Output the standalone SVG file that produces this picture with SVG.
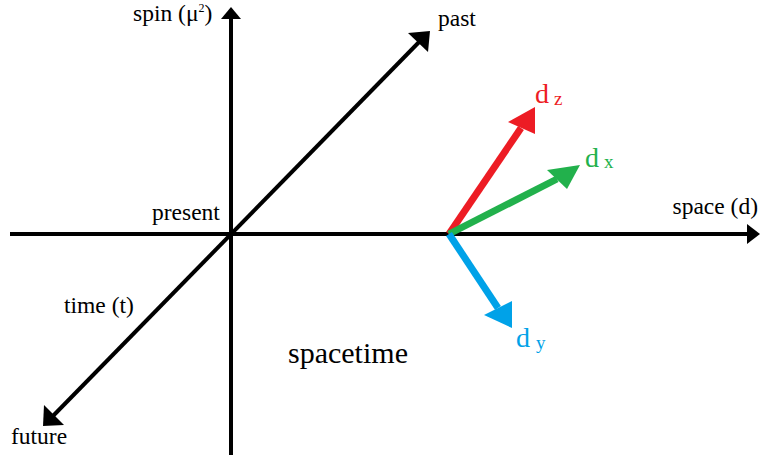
<svg xmlns="http://www.w3.org/2000/svg" width="761" height="457" viewBox="0 0 761 457">
<style>
text{font-family:"Liberation Serif","Times New Roman",serif;fill:#000}
.lbl{font-size:23.5px}
.ax{stroke:#000;stroke-width:4;fill:none}
.big{font-size:30px}
.d{font-size:28px}
.sub{font-size:19px}
</style>
<rect width="761" height="457" fill="#fff"/>
<g id="connectors">
  <line class="ax" x1="231" y1="455" x2="231" y2="16"/>
  <polygon points="231,7 221,19 241,19" fill="#000"/>
  <line class="ax" x1="10" y1="234" x2="749" y2="234"/>
  <polygon points="760,234 747,224 747,244" fill="#000"/>
  <line class="ax" x1="51" y1="418" x2="423" y2="38"/>
  <polygon points="43,426 44,405 64,425" fill="#000"/>
  <polygon points="430,31 408,33 428,52" fill="#000"/>
</g>
<g id="dz">
  <line x1="449" y1="234" x2="521" y2="128" stroke="#ed1c24" stroke-width="7"/>
  <polygon points="535,107 508,122 535,134" fill="#ed1c24"/>
  <text x="535" y="103" class="d" style="fill:#ed1c24">d</text>
  <text x="554" y="105" class="sub" style="fill:#ed1c24">z</text>
</g>
<g id="dx">
  <line x1="449" y1="234" x2="557" y2="179" stroke="#22b14c" stroke-width="7"/>
  <polygon points="580,165 547,170 567,189" fill="#22b14c"/>
  <text x="585" y="167" class="d" style="fill:#22b14c">d</text>
  <text x="604" y="168" class="sub" style="fill:#22b14c">x</text>
</g>
<g id="dy">
  <line x1="449" y1="234" x2="498" y2="308" stroke="#00a2e8" stroke-width="7"/>
  <polygon points="512,328 484,315 512,301" fill="#00a2e8"/>
  <text x="516" y="347" class="d" style="fill:#00a2e8">d</text>
  <text x="536" y="349" class="sub" style="fill:#00a2e8">y</text>
</g>
<g id="spin"><text x="133" y="21" class="lbl">spin (μ<tspan font-size="12" dy="-9">2</tspan><tspan dy="9">)</tspan></text></g>
<g id="past"><text x="438" y="26" class="lbl">past</text></g>
<g id="present"><text x="152" y="220" class="lbl">present</text></g>
<g id="space"><text x="758" y="214" class="lbl" text-anchor="end">space (d)</text></g>
<g id="time"><text x="64" y="313" class="lbl">time (t)</text></g>
<g id="future"><text x="11" y="444" class="lbl">future</text></g>
<g id="spacetime"><text x="288" y="363" class="big">spacetime</text></g>
</svg>
